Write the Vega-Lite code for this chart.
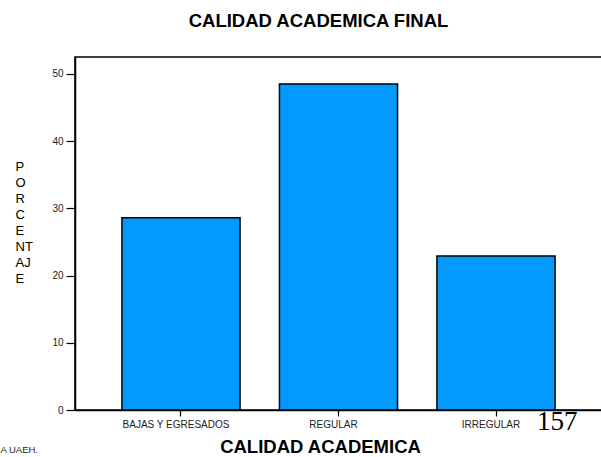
{
  "$schema": "https://vega.github.io/schema/vega-lite/v6.json",
  "autosize": {"type": "none"},
  "padding": {"left": 75, "top": 57, "right": 0, "bottom": 47},
  "width": 527,
  "height": 353,
  "background": "white",
  "config": {
    "font": "Liberation Sans",
    "view": {"stroke": "black", "strokeWidth": 1.5},
    "axis": {"grid": false, "domainColor": "black", "domainWidth": 1.5, "tickColor": "black", "tickWidth": 1.2, "labelColor": "#222", "labelFont": "Liberation Sans", "titleFont": "Liberation Sans", "titleColor": "black"}
  },
  "title": {
    "text": "CALIDAD ACADEMICA FINAL",
    "font": "Liberation Sans",
    "fontSize": 18.5,
    "fontWeight": "bold",
    "color": "black",
    "anchor": "middle",
    "dx": -20,
    "baseline": "alphabetic",
    "offset": 12
  },
  "layer": [
    {
      "data": {"values": [
        {"categoria": "BAJAS Y EGRESADOS", "porcentaje": 28.6},
        {"categoria": "REGULAR", "porcentaje": 48.5},
        {"categoria": "IRREGULAR", "porcentaje": 22.9}
      ]},
      "mark": {"type": "bar", "color": "#0499FF", "stroke": "black", "strokeWidth": 1.5},
      "encoding": {
        "x": {
          "field": "categoria", "type": "nominal",
          "scale": {"domain": ["BAJAS Y EGRESADOS", "REGULAR", "IRREGULAR"], "paddingInner": 0.25, "paddingOuter": 0.298},
          "axis": {
            "labelAngle": 0, "labelFontSize": 10, "labelPadding": 3, "tickSize": 6, "labelOffset": -5,
            "title": "CALIDAD ACADEMICA", "titleFontSize": 18.5, "titleFontWeight": "bold",
            "titleX": 245, "titleY": 42, "titleAlign": "center", "titleBaseline": "alphabetic"
          }
        },
        "y": {
          "field": "porcentaje", "type": "quantitative",
          "scale": {"domain": [0, 52.5], "nice": false, "zero": true},
          "axis": {
            "values": [0, 10, 20, 30, 40, 50], "labelFontSize": 10, "labelPadding": 3, "tickSize": 9,
            "title": ["P", "O", "R", "C", "E", "NT", "AJ", "E"], "titleAngle": 0, "titleAlign": "left",
            "titleBaseline": "top", "titleX": -60, "titleY": 103, "titleFontSize": 13,
            "titleFontWeight": "normal", "titleLineHeight": 16
          }
        }
      }
    },
    {
      "data": {"values": [
        {"categoria": "IRREGULAR", "porcentaje": -2.98, "texto": "157"}
      ]},
      "mark": {"type": "text", "font": "Liberation Serif", "fontSize": 27, "align": "left", "baseline": "alphabetic", "dx": 41, "color": "black"},
      "encoding": {
        "x": {"field": "categoria", "type": "nominal"},
        "y": {"field": "porcentaje", "type": "quantitative"},
        "text": {"field": "texto"}
      }
    },
    {
      "data": {"values": [
        {"categoria": "BAJAS Y EGRESADOS", "porcentaje": -6.4, "texto": "A UAEH."}
      ]},
      "mark": {"type": "text", "fontSize": 9.5, "align": "right", "baseline": "alphabetic", "dx": -143, "color": "#222"},
      "encoding": {
        "x": {"field": "categoria", "type": "nominal"},
        "y": {"field": "porcentaje", "type": "quantitative"},
        "text": {"field": "texto"}
      }
    }
  ]
}
